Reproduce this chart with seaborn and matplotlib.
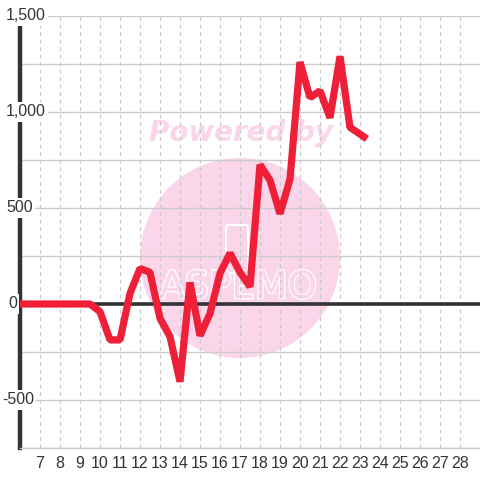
import matplotlib
matplotlib.use("Agg")
import matplotlib.pyplot as plt
import matplotlib.patches as mpatches
import matplotlib.patheffects as pe
import matplotlib.transforms as mtransforms
import pandas as pd
import seaborn as sns

# data
days = [6, 6.5, 7, 7.5, 8, 8.5, 9, 9.5, 10, 10.5, 11, 11.5, 12, 12.5, 13, 13.5,
        14, 14.5, 15, 15.5, 16, 16.5, 17, 17.5, 18, 18.5, 19, 19.5, 20, 20.5,
        21, 21.5, 22, 22.5, 23.35]
values = [0, 0, 0, 0, 0, 0, 0, 0, -40, -187, -187, 55, 185, 165, -75, -170,
          -405, 112, -165, -50, 160, 265, 165, 90, 725, 645, 470, 650, 1260, 1075,
          1110, 970, 1290, 920, 860]
x_ticks = list(range(7, 29))
y_ticks = [-500, 0, 500, 1000, 1500]
y_labels = ["-500", "0", "500", "1,000", "1,500"]

df = pd.DataFrame({"day": days, "value": values})

sns.set_style("white")
plt.rcParams["font.family"] = ["Liberation Sans", "DejaVu Sans"]

fig = plt.figure(figsize=(4.8, 4.8), dpi=100)
ax = fig.add_axes([20 / 480, 32 / 480, 460 / 480, 432 / 480])

# watermark: pink disc, "Powered by", white outlined logo
pink = "#fbd5ea"
ax.add_patch(mpatches.Ellipse((220 / 460, 190 / 432), 200 / 460, 200 / 432,
                              transform=ax.transAxes, facecolor=pink,
                              edgecolor="none", zorder=0.2))
ax.add_patch(mpatches.FancyBboxPatch((206 / 460, 175 / 432), 22 / 460, 48 / 432,
                                     boxstyle="round,pad=0,rounding_size=0.004",
                                     transform=ax.transAxes, facecolor="none",
                                     edgecolor="white", lw=1.5, zorder=0.3))
ax.text(221 / 460, 315 / 432, "Powered by", transform=ax.transAxes, ha="center",
        va="center", fontsize=20, fontweight="bold", style="italic",
        color=pink, family="DejaVu Sans", zorder=0.3)
ax.text(218 / 460, 160 / 432, "ASPEMO", transform=ax.transAxes, ha="center",
        va="center", fontsize=27, color=pink, family="DejaVu Sans",
        zorder=0.3,
        path_effects=[pe.withStroke(linewidth=2.0, foreground="white"),
                      pe.Normal()])

# grid
for v in range(-750, 1501, 250):
    ax.axhline(v, color="#cccccc", lw=1, zorder=0.5)
for t in x_ticks:
    ax.axvline(t, color="#c8c8c8", lw=0.9, ls=(0, (3, 3)), zorder=0.5)
ax.axhline(0, color="#333333", lw=2.6, zorder=1)

sns.lineplot(data=df, x="day", y="value", ax=ax, color="#ee1f36", lw=5.2,
             zorder=3)
ax.lines[-1].set_solid_joinstyle("bevel")
ax.lines[-1].set_solid_capstyle("butt")

ax.set_xlim(6, 29)
ax.set_ylim(-750, 1500)
ax.set_xticks(x_ticks)
ax.set_xticklabels([str(t) for t in x_ticks])
ax.set_yticks([])
ax.tick_params(axis="x", length=0, pad=6, labelsize=11.5, colors="#333333")
ax.set_xlabel("")
ax.set_ylabel("")

for s in ["top", "right"]:
    ax.spines[s].set_visible(False)
ax.spines["bottom"].set_color("#cccccc")
ax.spines["bottom"].set_linewidth(1)
ax.spines["left"].set_color("#333333")
ax.spines["left"].set_linewidth(3.2)
ax.spines["left"].set_bounds(-750, 1458)
ax.spines["left"].set_zorder(2)

# y labels sit over the axis line, left-aligned near the figure edge
label_x = {"-500": 2, "0": 8}
trans = mtransforms.blended_transform_factory(fig.transFigure, ax.transData)
for v, lab in zip(y_ticks, y_labels):
    ax.text(label_x.get(lab, 6) / 480, v, lab, transform=trans, ha="left",
            va="center", fontsize=11.5, color="#333333", zorder=4,
            bbox=dict(facecolor="white", edgecolor="none", pad=1.5))

fig.savefig("out.png", dpi=100, facecolor="white")
